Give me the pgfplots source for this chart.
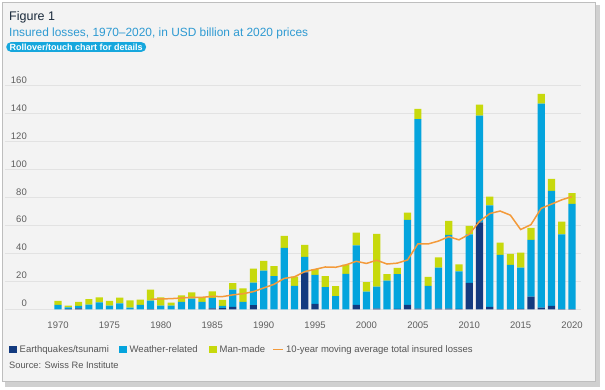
\documentclass[border=0pt]{standalone}
\usepackage{pgfplots}
\usepackage{pgfplotstable}
\pgfplotsset{compat=1.18}
\usepackage{fontspec}
\setmainfont{Liberation Sans}

\definecolor{navy}{HTML}{133A7F}
\definecolor{cyanb}{HTML}{04A4DD}
\definecolor{lime}{HTML}{C7D90C}
\definecolor{orng}{HTML}{F39A3A}
\definecolor{bg}{HTML}{F3F3F3}
\definecolor{gridc}{HTML}{E2E2E2}
\definecolor{tickc}{HTML}{5E5E5E}
\definecolor{framec}{HTML}{BEBEBE}
\definecolor{shadowc}{HTML}{D0D0D0}
\definecolor{titlec}{HTML}{1B2B3C}
\definecolor{subc}{HTML}{2E9AD2}
\definecolor{pillc}{HTML}{16A7DD}
\definecolor{legc}{HTML}{555555}

\pgfplotstableread{
year eq weather manmade
1970 0.0 3.1 3.0
1971 0.3 1.1 1.3
1972 0.6 1.9 2.8
1973 0.0 3.4 3.9
1974 0.0 5.0 3.6
1975 0.0 2.6 3.5
1976 0.0 4.3 4.0
1977 0.0 1.2 5.1
1978 0.0 3.2 3.7
1979 0.2 6.0 7.8
1980 0.0 2.6 6.0
1981 0.0 2.6 2.2
1982 0.0 5.4 4.6
1983 0.0 7.6 4.6
1984 0.0 5.4 3.1
1985 0.6 7.6 4.6
1986 0.8 1.7 4.3
1987 1.8 12.2 4.7
1988 0.0 5.3 9.7
1989 3.0 16.0 10.1
1990 0.0 27.6 7.1
1991 0.0 23.8 7.1
1992 0.0 43.9 8.6
1993 0.0 16.8 6.5
1994 26.4 11.2 8.5
1995 3.8 20.8 4.2
1996 0.0 15.8 7.9
1997 0.0 9.5 7.1
1998 0.0 25.4 6.5
1999 3.2 42.6 9.1
2000 0.0 12.7 6.8
2001 0.5 15.7 37.8
2002 0.0 20.5 4.6
2003 0.3 24.9 4.5
2004 3.2 60.8 5.2
2005 0.5 135.6 7.4
2006 0.0 16.7 6.5
2007 0.5 29.3 7.4
2008 0.5 52.7 10.1
2009 0.3 26.9 5.0
2010 18.9 34.8 6.0
2011 62.2 76.3 7.9
2012 1.7 72.6 6.4
2013 0.2 38.7 8.9
2014 0.2 31.6 7.8
2015 0.3 29.5 10.8
2016 9.1 40.6 8.6
2017 1.2 146.0 7.0
2018 2.4 82.4 8.6
2019 0.2 53.5 9.1
2020 0.2 75.3 7.6
}\losses

\pgfplotstableread{
year ma
1979 7.16
1980 7.41
1981 7.62
1982 8.09
1983 8.58
1984 8.57
1985 9.24
1986 9.09
1987 10.33
1988 11.14
1989 12.65
1990 15.26
1991 17.87
1992 22.12
1993 23.23
1994 26.99
1995 28.59
1996 30.28
1997 30.07
1998 31.76
1999 34.34
2000 32.82
2001 35.13
2002 32.39
2003 33.03
2004 35.34
2005 46.81
2006 46.76
2007 48.82
2008 51.96
2009 49.69
2010 53.71
2011 62.95
2012 68.51
2013 70.32
2014 67.36
2015 57.07
2016 60.58
2017 72.26
2018 75.27
2019 78.34
2020 80.68
}\mavg

\pgfplotsset{
  common/.style={
    at={(5pt,79.7pt)}, anchor=south west,
    scale only axis, width=576pt, height=223.6pt,
    xmin=1964.84, xmax=2020.87, ymin=0, ymax=160,
  }
}

\begin{document}
\begin{tikzpicture}
\fill[white] (0,0) rectangle (605pt,389pt);
\fill[shadowc] (5pt,2.5pt) rectangle (600pt,384pt);
\filldraw[fill=bg, draw=framec, line width=0.8pt] (2.5pt,7.5pt) rectangle (595.5pt,387pt);

\node[anchor=base west, inner sep=0pt, text=titlec, font=\fontsize{12.5}{14}\selectfont] at (9pt,368pt) {Figure 1};
\node[anchor=base west, inner sep=0pt, text=subc, font=\fontsize{11.9}{14}\selectfont] at (9pt,352.3pt) {Insured losses, 1970–2020, in USD billion at 2020 prices};
\node[fill=pillc, rounded corners=5pt, text=white, font=\bfseries\fontsize{9}{10}\selectfont, inner xsep=3.5pt, inner ysep=1.6pt, anchor=west] at (6pt,342pt) {Rollover/touch chart for details};

\begin{axis}[common,
  axis line style={draw=none},
  major tick length=0pt,
  ymajorgrids, grid style={gridc, line width=0.8pt},
  ytick={0,20,...,160}, xtick={1970,1975,...,2020},
  tick label style={font=\fontsize{9.5}{11}\selectfont, text=tickc, /pgf/number format/assume math mode=true},
  xticklabel style={/pgf/number format/1000 sep={}, anchor=base, yshift=-19pt, inner sep=0pt},
  yticklabel style={anchor=base east, inner sep=0pt, xshift=22pt, yshift=2.5pt},
  ybar stacked, bar width=7.2pt,
]
\addplot[fill=navy, draw=none] table[x=year, y=eq] {\losses};
\addplot[fill=cyanb, draw=none] table[x=year, y=weather] {\losses};
\addplot[fill=lime, draw=none] table[x=year, y=manmade] {\losses};
\end{axis}

\begin{axis}[common, hide axis]
\addplot[orng, line width=1.5pt, mark=none] table[x=year, y=ma] {\mavg};
\end{axis}

% legend
\begin{scope}[font=\fontsize{9.5}{11}\selectfont, text=legc]
\fill[navy] (9pt,35.7pt) rectangle (17pt,42.7pt);
\node[anchor=base west, inner sep=0pt] at (19.5pt,36.3pt) {Earthquakes/tsunami};
\fill[cyanb] (119pt,35.7pt) rectangle (127pt,42.7pt);
\node[anchor=base west, inner sep=0pt] at (129.5pt,36.3pt) {Weather-related};
\fill[lime] (209pt,35.7pt) rectangle (217pt,42.7pt);
\node[anchor=base west, inner sep=0pt] at (219.5pt,36.3pt) {Man-made};
\draw[orng, line width=1.2pt] (273pt,39.2pt) -- (283pt,39.2pt);
\node[anchor=base west, inner sep=0pt] at (286pt,36.3pt) {10-year moving average total insured losses};
\node[anchor=base west, inner sep=0pt, font=\fontsize{9.3}{11}\selectfont] at (9pt,20.3pt) {Source: Swiss Re Institute};
\end{scope}

\pgfresetboundingbox
\useasboundingbox (0,0) rectangle (605pt,389pt);
\end{tikzpicture}
\end{document}
